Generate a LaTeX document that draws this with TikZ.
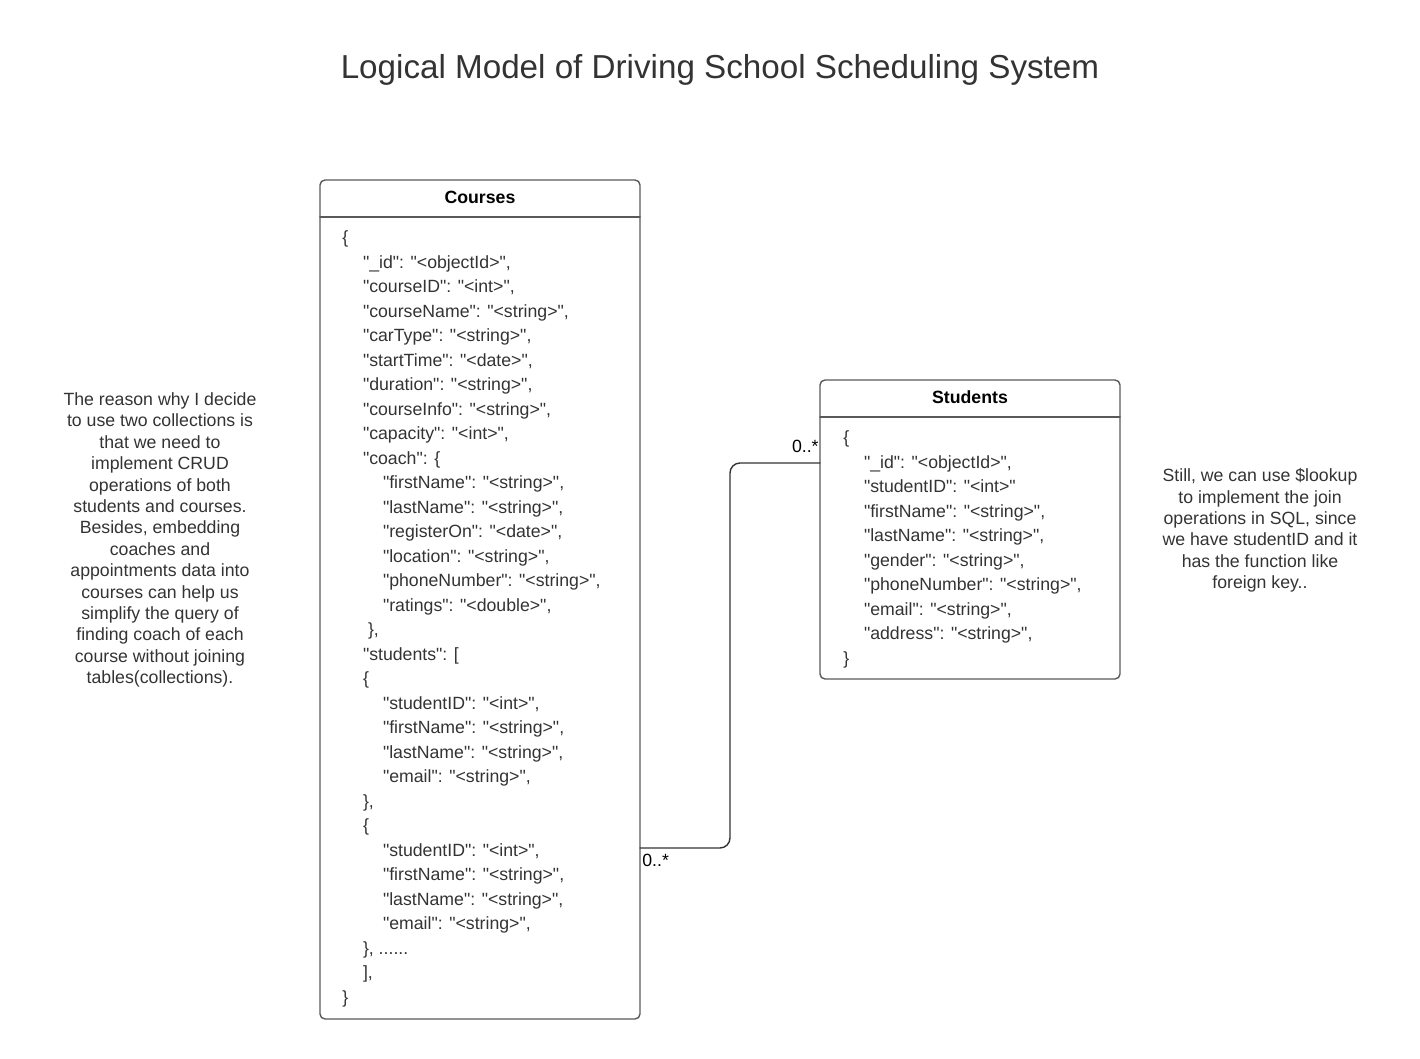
\documentclass[tikz,border=0pt]{standalone}
\usepackage{fontspec}
\setmainfont[Ligatures=TeXOff]{Liberation Sans}
\usetikzlibrary{positioning}

\definecolor{ink}{HTML}{333333}
\definecolor{edge}{HTML}{595959}

\newcommand{\tab}{\hspace*{10.3pt}}
\newcommand{\ttab}{\hspace*{20.3pt}}

\tikzset{
  doc/.style={draw=edge, line width=0.7pt, rounded corners=2.5pt, inner sep=0pt},
  body/.style={ink, align=left, anchor=north west, inner sep=0pt,
    font=\fontsize{8.85}{12.25}\selectfont},
  note/.style={ink, align=center, inner sep=0pt,
    font=\fontsize{8.85}{10.7}\selectfont},
  head/.style={font=\bfseries\fontsize{8.85}{10}\selectfont},
  link/.style={draw=ink, line width=0.7pt, rounded corners=5pt},
  mult/.style={font=\fontsize{8.85}{10}\selectfont, inner sep=0pt}
}

\begin{document}
\begin{tikzpicture}[line cap=round,line join=round,x=0.5pt,y=-0.5pt]
  \useasboundingbox (0,0) rectangle (1420,1059);

  \node[ink, font=\fontsize{16.6}{20}\selectfont] (title) at (720,70)
    {Logical Model of Driving School Scheduling System};

  % courses collection
  \node[doc, minimum width=160pt, minimum height=419.5pt] (courses) at (480,599.5) {};
  \node[head] (courseshead) at (480,197) {Courses};
  \draw[edge, line width=0.7pt] (320,217) -- (640,217);
  \node[body] (coursesbody) at (342,230.5) {%
    \{\\
    \tab"\_id": "<objectId>",\\
    \tab"courseID": "<int>",\\
    \tab"courseName": "<string>",\\
    \tab"carType": "<string>",\\
    \tab"startTime": "<date>",\\
    \tab"duration": "<string>",\\
    \tab"courseInfo": "<string>",\\
    \tab"capacity": "<int>",\\
    \tab"coach": \{\\
    \ttab"firstName": "<string>",\\
    \ttab"lastName": "<string>",\\
    \ttab"registerOn": "<date>",\\
    \ttab"location": "<string>",\\
    \ttab"phoneNumber": "<string>",\\
    \ttab"ratings": "<double>",\\
    \tab\hspace*{2.5pt}\},\\
    \tab"students": [\\
    \tab\{\\
    \ttab"studentID": "<int>",\\
    \ttab"firstName": "<string>",\\
    \ttab"lastName": "<string>",\\
    \ttab"email": "<string>",\\
    \tab\},\\
    \tab\{\\
    \ttab"studentID": "<int>",\\
    \ttab"firstName": "<string>",\\
    \ttab"lastName": "<string>",\\
    \ttab"email": "<string>",\\
    \tab\}, ......\\
    \tab],\\
    \}};

  % students collection
  \node[doc, minimum width=150pt, minimum height=149.5pt] (students) at (970,529.5) {};
  \node[head] (studentshead) at (970,397) {Students};
  \draw[edge, line width=0.7pt] (820,417) -- (1120,417);
  \node[body] (studentsbody) at (843,430.5) {%
    \{\\
    \tab"\_id": "<objectId>",\\
    \tab"studentID": "<int>"\\
    \tab"firstName": "<string>",\\
    \tab"lastName": "<string>",\\
    \tab"gender": "<string>",\\
    \tab"phoneNumber": "<string>",\\
    \tab"email": "<string>",\\
    \tab"address": "<string>",\\
    \}};

  % relation
  \coordinate (cfoot) at (640,848);
  \coordinate (sfoot) at (820,463);
  \draw[link] (cfoot) -- (730,848) -- (730,463) -- (sfoot);
  \node[mult, anchor=north west] (cmult) at (642,854) {0..*};
  \node[mult, anchor=south east] (smult) at (819,453) {0..*};

  % notes
  \node[note] (leftnote) at (160,540) {The reason why I decide\\
    to use two collections is\\
    that we need to\\
    implement CRUD\\
    operations of both\\
    students and courses.\\
    Besides, embedding\\
    coaches and\\
    appointments data into\\
    courses can help us\\
    simplify the query of\\
    finding coach of each\\
    course without joining\\
    tables(collections).};
  \node[note] (rightnote) at (1260,530.5) {Still, we can use \$lookup\\
    to implement the join\\
    operations in SQL, since\\
    we have studentID and it\\
    has the function like\\
    foreign key..};
\end{tikzpicture}
\end{document}
